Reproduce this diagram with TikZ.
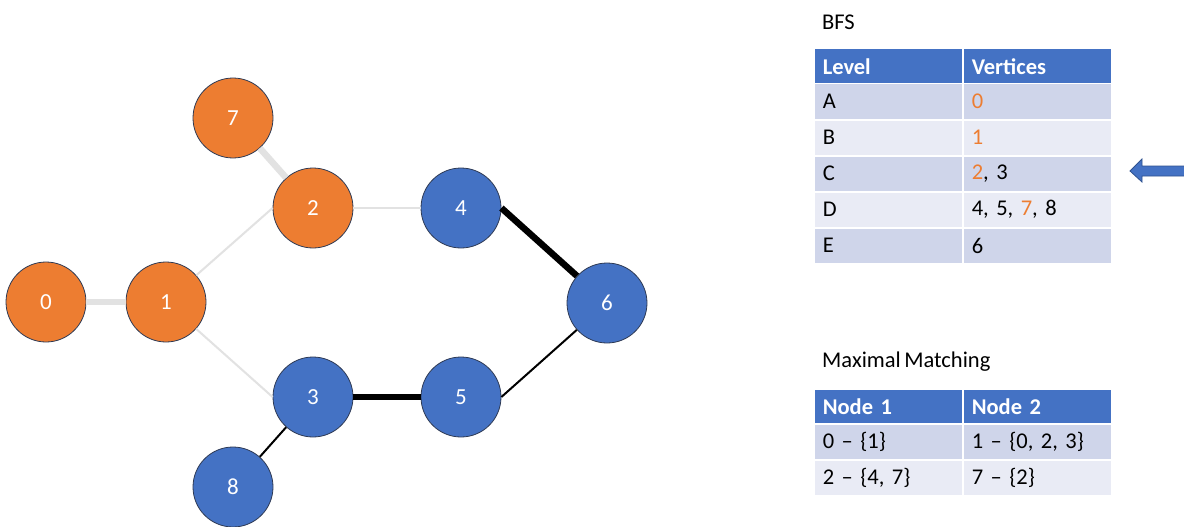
\documentclass[tikz,border=0pt]{standalone}
\usepackage{fontspec}
\setmainfont[WordSpace=0.7]{Carlito}
\definecolor{orng}{HTML}{ED7D31}
\definecolor{blu}{HTML}{4472C4}
\definecolor{rowa}{HTML}{CFD5EA}
\definecolor{rowb}{HTML}{E9EBF5}
\definecolor{edgegray}{HTML}{E2E2E2}
\definecolor{outl}{HTML}{2F3B55}
\definecolor{arrowoutl}{HTML}{2F528F}
\begin{document}
\begin{tikzpicture}[x=1pt,y=-1pt,
  vtx/.style={circle, minimum size=80pt, inner sep=0pt, draw=outl, line width=0.8pt,
              text=white, font=\fontsize{23}{27}\selectfont},
  ov/.style={vtx, fill=orng},
  bv/.style={vtx, fill=blu},
  lite/.style={draw=edgegray, line width=2pt},
  litethick/.style={draw=edgegray, line width=6.5pt},
  dark/.style={draw=black, line width=2pt},
  darkthick/.style={draw=black, line width=6.5pt},
  cell/.style={rectangle, draw=white, line width=1.5pt, inner xsep=9pt, inner ysep=0pt,
               text width=131pt, minimum height=36pt, anchor=north west, align=left,
               font=\fontsize{22.5}{26}\selectfont},
  hcell/.style={cell, fill=blu, text=white, minimum height=35pt, font=\fontsize{22.5}{26}\selectfont\bfseries},
  acell/.style={cell, fill=rowa},
  bcell/.style={cell, fill=rowb},
  title/.style={anchor=west, inner sep=0pt, font=\fontsize{22.5}{26}\selectfont}
]
\useasboundingbox (0,0) rectangle (1184,527);
\fill[white] (0,0) rectangle (1184,527);

% vertices
\node[ov] (n0) at (46,302) {0};
\node[ov] (n1) at (166,302) {1};
\node[ov] (n7) at (233,118) {7};
\node[ov] (n2) at (313,208) {2};
\node[bv] (n4) at (461,208) {4};
\node[bv] (n6) at (607,303) {6};
\node[bv] (n3) at (313,397) {3};
\node[bv] (n5) at (461,397) {5};
\node[bv] (n8) at (233,487) {8};

% edges
\draw[litethick] (n0) -- (n1);
\draw[litethick] (n7) -- (n2);
\draw[lite] (n1) -- (n2.west);
\draw[lite] (n2.east) -- (n4.west);
\draw[lite] (n1) -- (n3.west);
\draw[darkthick] (n4.east) -- (n6);
\draw[darkthick] (n3) -- (n5);
\draw[dark] (n5.east) -- (n6);
\draw[dark] (n3) -- (n8);

% BFS table
\node[title] (bfst) at (822,22) {BFS};
\node[hcell] (h1) at (813,48) {Level};
\node[hcell] (h2) at (962,48) {Vertices};
\node[acell] (a1) at (813,83) {A};
\node[acell] (a2) at (962,83) {\textcolor{orng}{0}};
\node[bcell] (b1) at (813,119) {B};
\node[bcell] (b2) at (962,119) {\textcolor{orng}{1}};
\node[acell] (c1) at (813,155) {C};
\node[acell] (c2) at (962,155) {\textcolor{orng}{2}, 3};
\node[bcell] (d1) at (813,191) {D};
\node[bcell] (d2) at (962,191) {4, 5, \textcolor{orng}{7}, 8};
\node[acell] (e1) at (813,227) {E};
\node[acell] (e2) at (962,227) {6};

% Matching table
\node[title] (mmt) at (822,362) {Maximal Matching};
\node[hcell] (m1) at (813,388) {Node 1};
\node[hcell] (m2) at (962,388) {Node 2};
\node[acell] (p1) at (813,423) {0 – \{1\}};
\node[acell] (p2) at (962,423) {1 – \{0, 2, 3\}};
\node[bcell] (q1) at (813,459) {2 – \{4, 7\}};
\node[bcell] (q2) at (962,459) {7 – \{2\}};

% pointer arrow
\draw[fill=blu, draw=arrowoutl, line width=0.8pt]
  (1130,171) -- (1142,159) -- (1142,166) -- (1190,166) -- (1190,176)
  -- (1142,176) -- (1142,182) -- cycle;
\end{tikzpicture}
\end{document}
